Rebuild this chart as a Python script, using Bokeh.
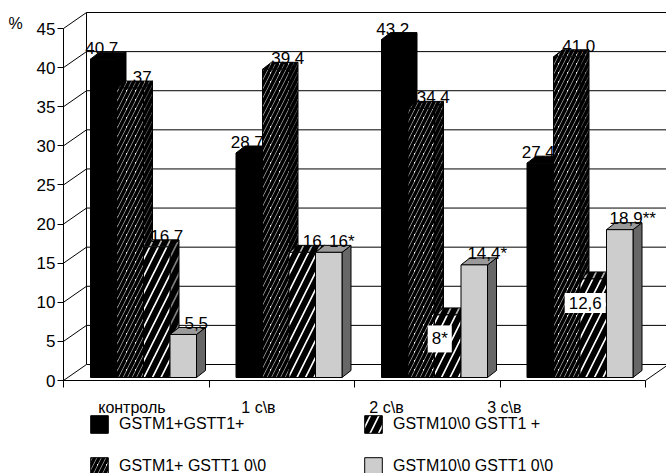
from bokeh.plotting import figure
from bokeh.models import Range1d, FixedTicker, Legend, LegendItem, Label
from bokeh.core.properties import value
from bokeh.embed import file_html
from bokeh.resources import INLINE

# ---------------- data ----------------
categories = ["контроль", "1 с\\в", "2 с\\в", "3 с\\в"]
series_names = ["GSTM1+GSTT1+", "GSTM1+ GSTT1 0\\0", "GSTM10\\0 GSTT1 +", "GSTM10\\0 GSTT1 0\\0"]
gstm1_pos_gstt1_pos = [40.7, 28.7, 43.2, 27.4]
gstm1_pos_gstt1_null = [37.0, 39.4, 34.4, 41.0]
gstm1_null_gstt1_pos = [16.7, 16.0, 8.0, 12.6]
gstm1_null_gstt1_null = [5.5, 16.0, 14.4, 18.9]
labels_s1 = ["40,7", "28,7", "43,2", "27,4"]
labels_s2 = ["37", "39,4", "34,4", "41,0"]
labels_s3 = ["16,7", "16", "8*", "12,6"]
labels_s4 = ["5,5", "16*", "14,4*", "18,9**"]
y_ticks = [0, 5, 10, 15, 20, 25, 30, 35, 40, 45]
x_label_pos = [0.47, 1.34, 2.22, 3.03]

series = [gstm1_pos_gstt1_pos, gstm1_pos_gstt1_null, gstm1_null_gstt1_pos, gstm1_null_gstt1_null]
series_labels = [labels_s1, labels_s2, labels_s3, labels_s4]

# ---------------- layout ----------------
W, H = 666, 473
X0, Y0 = 63, 380          # page position of the front-plane origin
PXX = 145.5               # px per category
PXY = 352.0 / 45.0        # px per percent
FONT = "Liberation Sans"

DX, DY = 23 / PXX, 16 / PXY        # wall depth
G0, BW = 27 / PXX, 26.5 / PXX      # bar offset / width
BY = 3 / PXY                        # bar base
BDX, BDY = 9 / PXX, 7 / PXY        # bar depth

styles = [
    dict(front="black", top="black", side="black", hatch={}),
    dict(front="white", top="#c8c8c8", side="#7f7f7f",
         hatch=dict(hatch_pattern="/", hatch_color="black", hatch_scale=9, hatch_weight=3.6)),
    dict(front="white", top="#b4b4b4", side="#7f7f7f",
         hatch=dict(hatch_pattern="/", hatch_color="black", hatch_scale=17, hatch_weight=6)),
    dict(front="#cdcdcd", top="#9a9a9a", side="#676767", hatch={}),
]
label_dx_px = [-2, 12, 10, 13]
inset = {(2, 2), (3, 2)}

p = figure(width=W, height=H,
           x_range=Range1d(-X0 / PXX, (W - X0) / PXX),
           y_range=Range1d(-(H - Y0) / PXY, Y0 / PXY),
           output_backend="svg", toolbar_location=None,
           min_border=0, min_border_left=0, min_border_right=0, min_border_top=0, min_border_bottom=0)
p.outline_line_color = None
p.xgrid.visible = False
p.ygrid.visible = False
p.background_fill_color = "white"
p.border_fill_color = "white"

n = len(categories)
# back wall, gridlines, diagonals
p.segment(x0=[DX] * len(y_ticks), y0=[t + DY for t in y_ticks],
          x1=[n + DX] * len(y_ticks), y1=[t + DY for t in y_ticks], line_color="black", line_width=1)
p.segment(x0=[0] * len(y_ticks), y0=y_ticks, x1=[DX] * len(y_ticks),
          y1=[t + DY for t in y_ticks], line_color="black", line_width=1)
p.segment(x0=[DX, n + DX, n], y0=[DY, DY, 0], x1=[DX, n + DX, n + DX],
          y1=[y_ticks[-1] + DY, y_ticks[-1] + DY, DY], line_color="black", line_width=1)

front_renderers = []
for s, vals in enumerate(series):
    st = styles[s]
    xl = [c + G0 + s * BW for c in range(n)]
    xr = [x + BW for x in xl]
    yt = [BY + v for v in vals]
    side_xs = [[r, r + BDX, r + BDX, r] for r in xr]
    side_ys = [[BY, BY + BDY, t + BDY, t] for t in yt]
    top_xs = [[l, r, r + BDX, l + BDX] for l, r in zip(xl, xr)]
    top_ys = [[t, t, t + BDY, t + BDY] for t in yt]
    p.patches(xs=side_xs, ys=side_ys, fill_color=st["side"], line_color="black", line_width=1, **st["hatch"])
    p.patches(xs=top_xs, ys=top_ys, fill_color=st["top"], line_color="black", line_width=1, **st["hatch"])
    r = p.vbar(x=[(a + b) / 2 for a, b in zip(xl, xr)], width=BW, bottom=BY, top=yt,
               fill_color=st["front"], line_color="black", line_width=1, **st["hatch"])
    front_renderers.append(r)

# data labels
for s, vals in enumerate(series):
    nx, ny, nt, ix, iy, it = [], [], [], [], [], []
    for c, v in enumerate(vals):
        xc = c + G0 + s * BW + BW / 2
        if (c, s) in inset:
            ix.append(xc - 8 / PXX)
            iy.append(BY + v - 24 / PXY)
            it.append(series_labels[s][c])
        else:
            nx.append(xc + label_dx_px[s] / PXX)
            ny.append(BY + v + BDY + 4 / PXY)
            nt.append(series_labels[s][c])
    if nx:
        p.text(x=nx, y=ny, text=nt, text_font=value(FONT), text_font_size="17px",
               text_align="center", text_baseline="alphabetic", text_color="black")
    if ix:
        p.text(x=ix, y=iy, text=it, text_font=value(FONT), text_font_size="17px",
               text_align="center", text_baseline="alphabetic", text_color="black",
               background_fill_color="white", padding=4)

# axes (placed on the front plane)
ya = p.yaxis[0]
ya.fixed_location = 0
ya.ticker = FixedTicker(ticks=y_ticks)
ya.bounds = (0, 45)
ya.major_tick_out = 6
ya.major_tick_in = 0
ya.minor_tick_line_color = None
ya.axis_line_color = "black"
ya.major_tick_line_color = "black"
ya.major_label_text_font = FONT
ya.major_label_text_font_size = "17px"
ya.major_label_text_color = "black"
ya.major_label_standoff = 2

xa = p.xaxis[0]
xa.fixed_location = 0
xa.ticker = FixedTicker(ticks=x_label_pos, minor_ticks=list(range(n + 1)))
xa.major_label_overrides = {pos: name for pos, name in zip(x_label_pos, categories)}
xa.bounds = (0, n)
xa.major_tick_out = 0
xa.major_tick_in = 0
xa.minor_tick_out = 7
xa.minor_tick_in = 0
xa.minor_tick_line_color = "black"
xa.axis_line_color = "black"
xa.major_label_text_font = FONT
xa.major_label_text_font_size = "16px"
xa.major_label_text_color = "black"
xa.major_label_standoff = 11

p.add_layout(Label(x=(8 - X0) / PXX, y=(Y0 - 23) / PXY, text="%", text_align="left", text_baseline="middle",
                   text_font=FONT, text_font_size="16px", text_color="black"))

# legends
common = dict(orientation="vertical", glyph_width=22, glyph_height=22, spacing=20, padding=0, margin=0,
              border_line_color=None, background_fill_alpha=0, label_text_font=FONT,
              label_text_font_size="16px", label_text_color="black", label_standoff=9)
leg_bottom = -(413 + 22 + 20 + 22 - H)
leg1 = Legend(items=[LegendItem(label=series_names[0], renderers=[front_renderers[0]]),
                     LegendItem(label=series_names[1], renderers=[front_renderers[1]])],
              location=(88, leg_bottom), **common)
leg2 = Legend(items=[LegendItem(label=series_names[2], renderers=[front_renderers[2]]),
                     LegendItem(label=series_names[3], renderers=[front_renderers[3]])],
              location=(362, leg_bottom), **common)
p.add_layout(leg1)
p.add_layout(leg2)

open("out.html", "w").write(file_html(p, INLINE))
